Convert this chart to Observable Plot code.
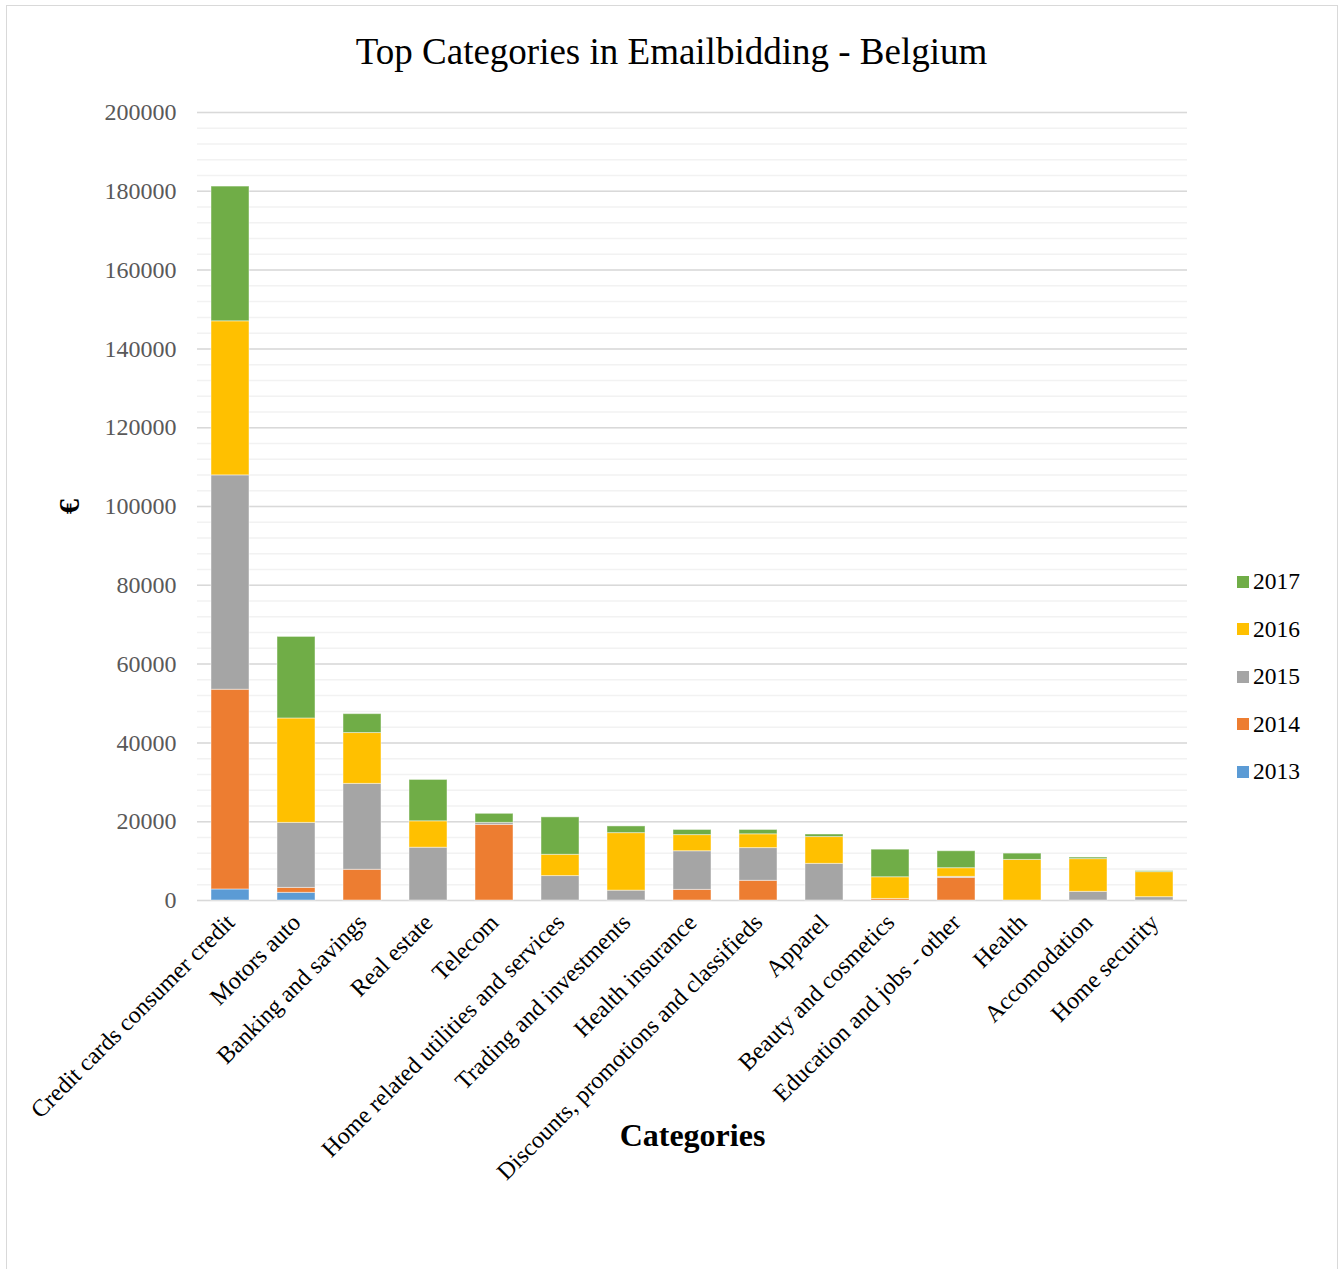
<!DOCTYPE html>
<html><head><meta charset="utf-8">
<script src="https://cdn.jsdelivr.net/npm/d3@7"></script>
<script src="https://cdn.jsdelivr.net/npm/@observablehq/plot@0.6"></script>
<style>
body{margin:0;background:#fff;font-family:"Liberation Serif","Times New Roman",serif;}
#wrap{position:relative;width:1343px;height:1269px;overflow:hidden;background:#fff;}
#frame{position:absolute;left:6px;top:5px;width:1330px;height:1300px;border:1px solid #d9d9d9;}
#title{position:absolute;left:0;width:1343px;top:33px;line-height:37px;text-align:center;font-size:37px;color:#000;}
#chart{position:absolute;left:0;top:90px;}
#legend{position:absolute;left:1237px;top:558px;}
.li{display:flex;align-items:center;height:47.5px;font-size:23.5px;color:#000;}
.sw{width:12px;height:12px;margin-right:4px;}
g[aria-label="y-axis label"] text{font-size:30px;font-weight:bold;fill:#000;}
g[aria-label="x-axis label"] text{font-size:32px;font-weight:bold;fill:#000;}
</style>
</head><body>
<div id="wrap">
<div id="frame"></div>
<div id="title">Top Categories in Emailbidding - Belgium</div>
<div id="chart"></div>
<div id="legend"></div>
</div>
<script>
const categories = ["Credit cards consumer credit","Motors auto","Banking and savings","Real estate","Telecom","Home related utilities and services","Trading and investments","Health insurance","Discounts, promotions and classifieds","Apparel","Beauty and cosmetics","Education and jobs - other","Health","Accomodation","Home security"];
const years = ["2013","2014","2015","2016","2017"];
const colors = ["#5b9bd5","#ed7d31","#a5a5a5","#ffc000","#70ad47"];
const v2013 = [2800,1950,0,0,0,0,0,0,0,0,0,0,0,0,0];
const v2014 = [50700,1250,7800,0,19200,0,0,2700,5000,0,400,5750,0,0,0];
const v2015 = [54400,16500,21800,13400,500,6200,2500,9800,8300,9300,0,250,0,2200,850];
const v2016 = [39100,26500,12900,6700,0,5400,14600,4100,3500,6800,5500,2200,10300,8300,6350];
const v2017 = [34200,20700,4800,10500,2300,9500,1700,1300,1100,650,7000,4300,1600,400,250];
const yTicks = [0,20000,40000,60000,80000,100000,120000,140000,160000,180000,200000];
const minorStep = 4000;

const series = [v2013,v2014,v2015,v2016,v2017];
const data = years.flatMap((yr,i)=>categories.map((c,j)=>({category:c, year:yr, value:series[i][j]})));
const minorTicks = d3.range(0, 200001, minorStep);

const chart = Plot.plot({
  width:1343, height:1110,
  marginLeft:197, marginRight:156, marginTop:22, marginBottom:300,
  style:{fontFamily:"'Liberation Serif','Times New Roman',serif", fontSize:"24px", color:"#000", background:"transparent", overflow:"visible"},
  x:{domain:categories, paddingInner:0.424, paddingOuter:0.212},
  y:{domain:[0,200000]},
  color:{domain:years, range:colors},
  marks:[
    Plot.ruleY(minorTicks, {stroke:"#f2f2f2", strokeWidth:1.5}),
    Plot.ruleY(yTicks, {stroke:"#d9d9d9", strokeWidth:1.5}),
    Plot.barY(data, Plot.stackY({order:years}, {x:"category", y:"value", fill:"year", stroke:"#ffffff", strokeOpacity:0.45, strokeWidth:1})),
    Plot.axisY({ticks:yTicks, tickSize:0, tickPadding:21, tickFormat:d=>String(d), color:"#595959", label:"€", labelAnchor:"center", labelArrow:"none", labelOffset:140}),
    Plot.axisX({tickSize:0, tickPadding:18, tickRotate:-45, label:"Categories", labelAnchor:"center", labelArrow:"none", labelOffset:245})
  ]
});
document.getElementById("chart").appendChild(chart);

const legend = document.getElementById("legend");
[...years].reverse().forEach(yr=>{
  const i = years.indexOf(yr);
  const d = document.createElement("div");
  d.className = "li";
  d.innerHTML = `<span class="sw" style="background:${colors[i]}"></span><span>${yr}</span>`;
  legend.appendChild(d);
});
</script>
</body></html>
